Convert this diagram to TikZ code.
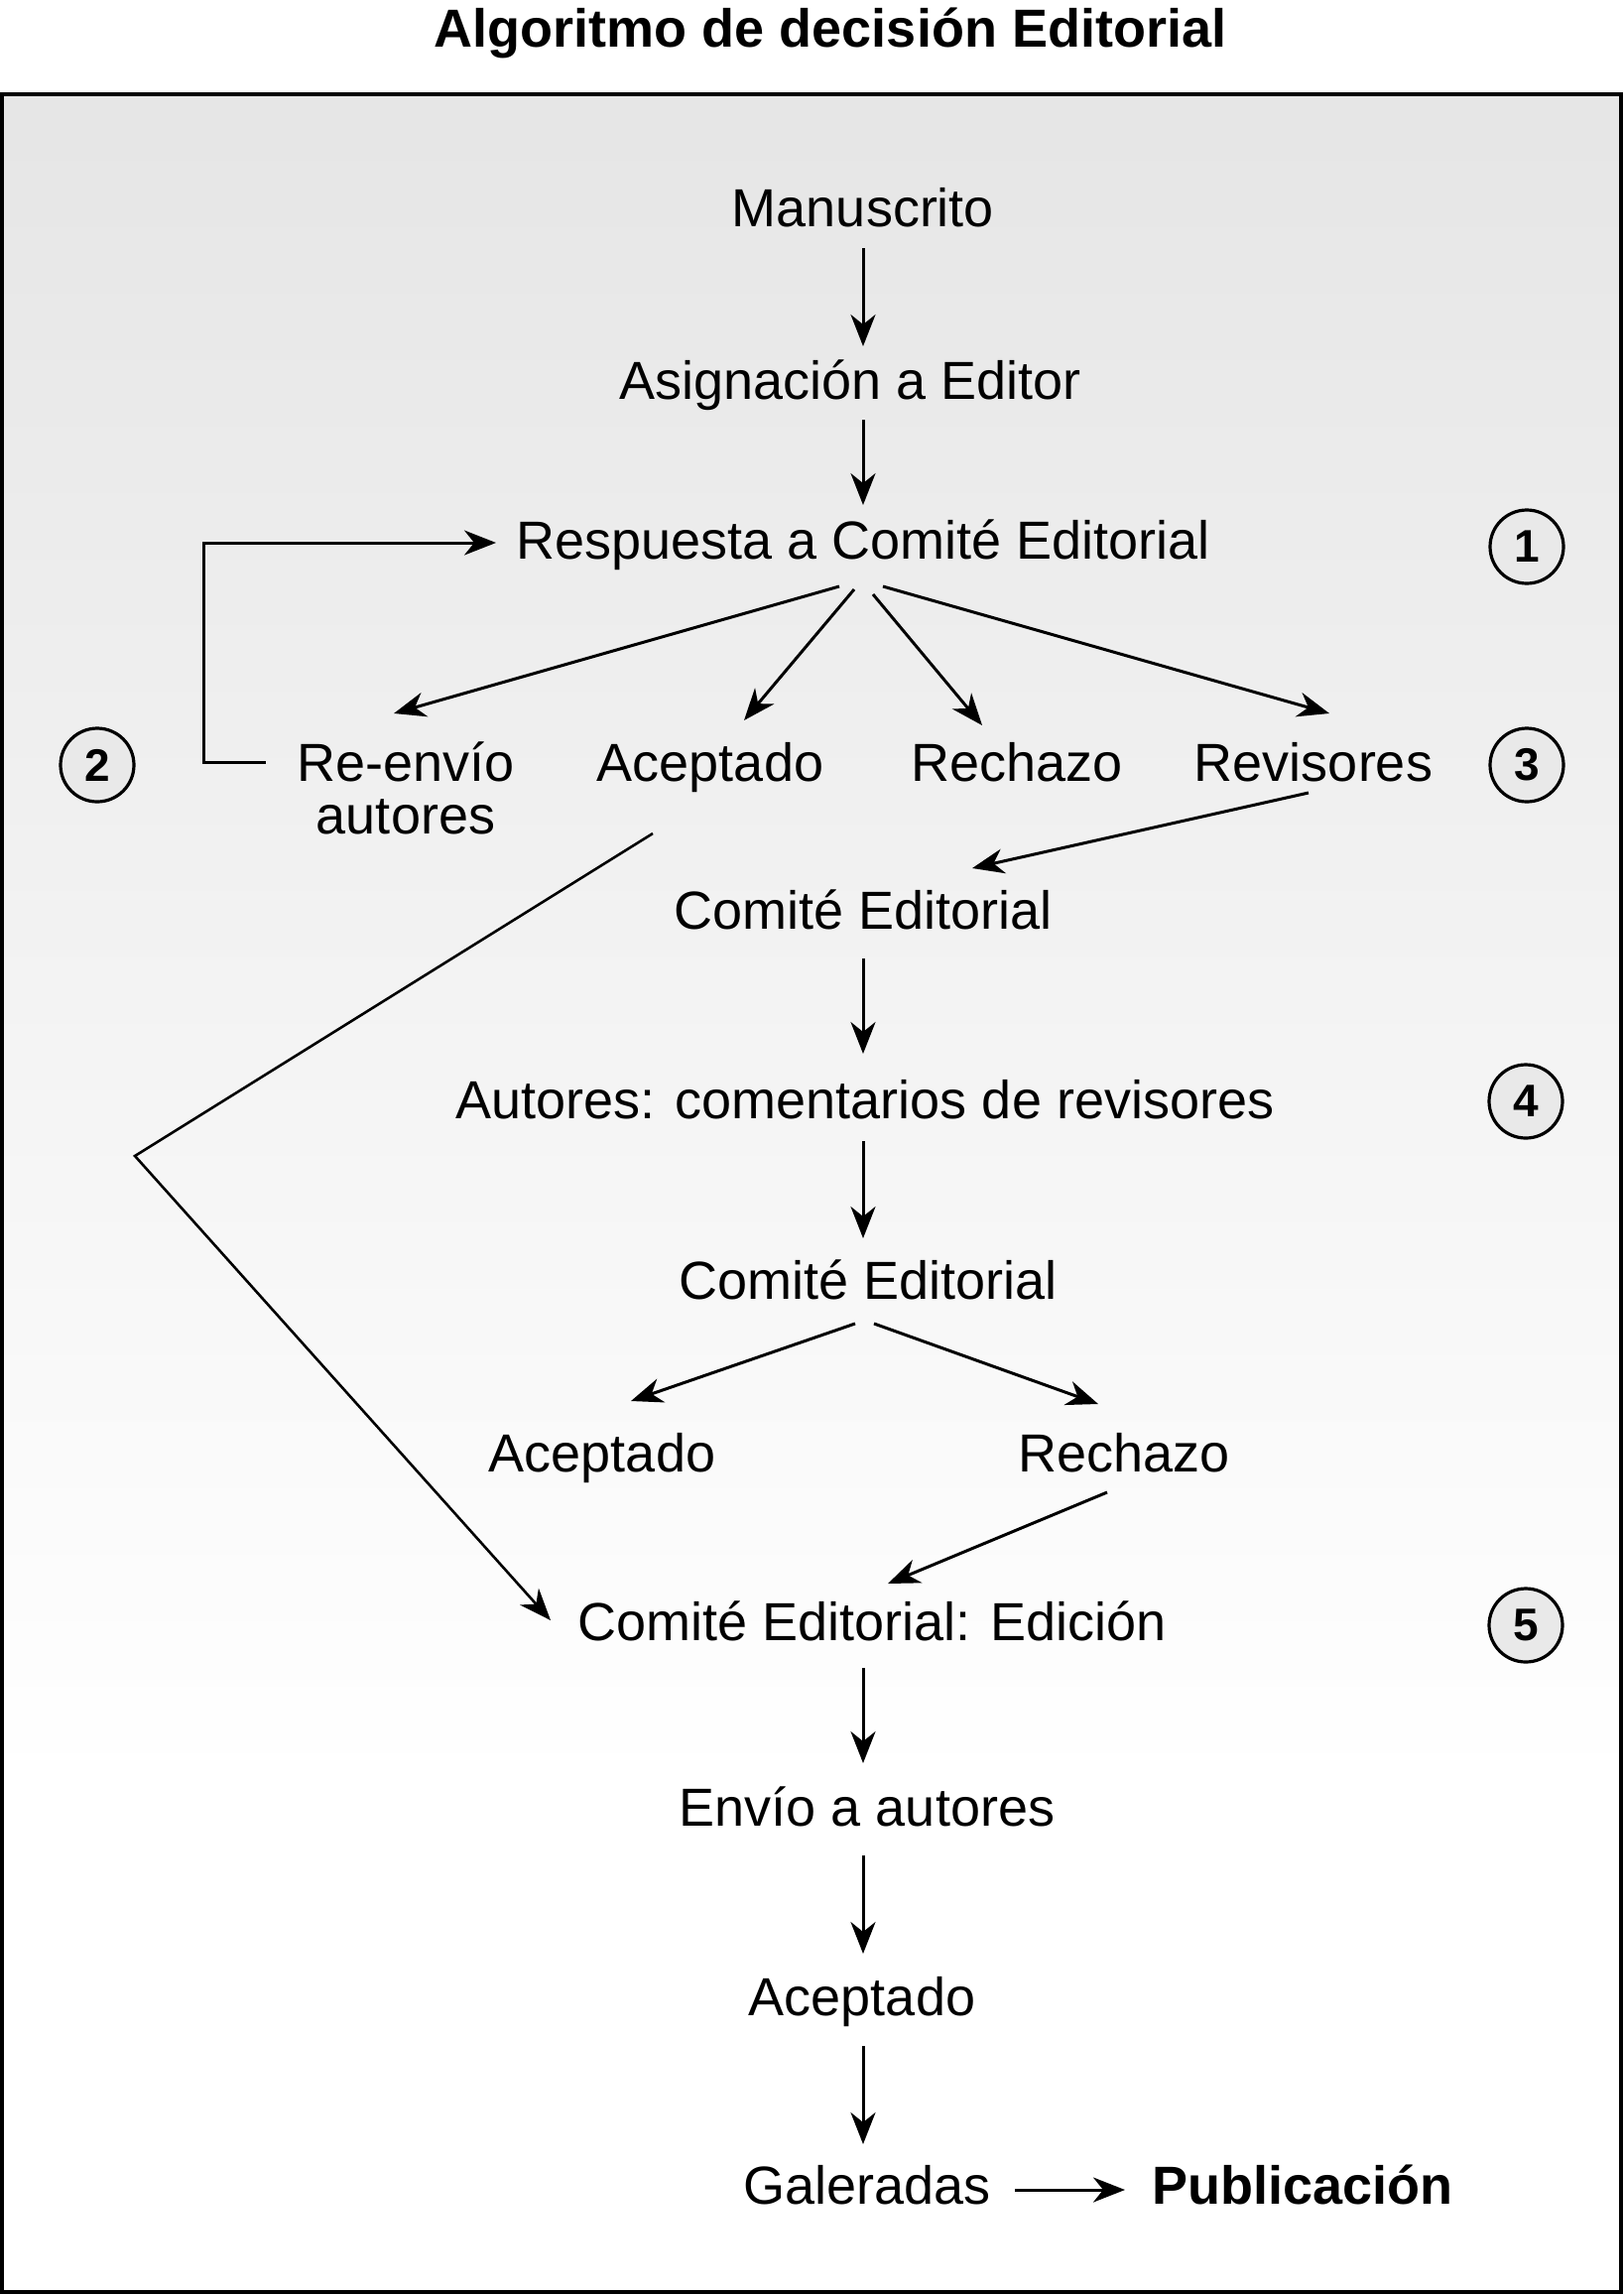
\documentclass[tikz,border=0pt]{standalone}
\usepackage{fontspec}
\setmainfont{Liberation Sans}
\usetikzlibrary{arrows.meta,calc}
\begin{document}
\begin{tikzpicture}[x=0.5pt,y=-0.5pt,
  lbl/.style={inner sep=0pt, anchor=base, font=\fontsize{27}{26.5}\selectfont},
  num/.style={circle, draw, line width=1.6pt, fill=gray!17, minimum size=37pt, inner sep=0pt, font=\fontsize{23}{23}\selectfont\bfseries},
  arr/.style={line width=1.5pt, -{Stealth[length=16pt,width=12.5pt,inset=5pt]}}]
\useasboundingbox (0,0) rectangle (1637,2313);
\fill[white] (0,0) rectangle (1637,2313);
\shade[top color=gray!20, bottom color=white] (2,95) rectangle (1634,1800);
\draw[line width=1.6pt] (2,95) rectangle (1634,2310);

\node[lbl, font=\fontsize{27}{26.5}\selectfont\bfseries] (title) at (837,47) {Algoritmo de decisión Editorial};

\node[lbl] (man) at (870,228) {Manuscrito};
\node[lbl] (asig) at (857,402) {Asignación a Editor};
\node[lbl] (resp) at (870,563) {Respuesta a Comité Editorial};
\node[lbl] (reenv) at (409,787) {\begin{tabular}[t]{@{}c@{}}Re-envío\\autores\end{tabular}};
\node[lbl] (acep1) at (716,787) {Aceptado};
\node[lbl] (rech1) at (1025,787) {Rechazo};
\node[lbl] (revi) at (1324,787) {Revisores};
\node[lbl] (ce1) at (870,936) {Comité Editorial};
\node[lbl] (aut) at (872,1127) {Autores: comentarios de revisores};
\node[lbl] (ce2) at (875,1309) {Comité Editorial};
\node[lbl] (acep2) at (607,1483) {Aceptado};
\node[lbl] (rech2) at (1133,1483) {Rechazo};
\node[lbl] (edic) at (879,1653) {Comité Editorial: Edición};
\node[lbl] (envio) at (874,1840) {Envío a autores};
\node[lbl] (acep3) at (869,2031) {Aceptado};
\node[lbl] (gal) at (874,2221) {Galeradas};
\node[lbl, font=\fontsize{27}{26.5}\selectfont\bfseries] (pub) at (1313,2221) {Publicación};

\node[num] (c1) at (1539,551) {1};
\node[num] (c2) at (98,771) {2};
\node[num] (c3) at (1539,771) {3};
\node[num] (c4) at (1538,1110) {4};
\node[num] (c5) at (1538,1638) {5};

\draw[arr] ($(man.base)+(0,22)$) -- ($(asig.base)+(13,-53)$);
\draw[arr] ($(asig.base)+(13,21)$) -- ($(resp.base)+(0,-54)$);
\draw[arr] ($(resp.base)+(-24,28)$) -- ($(reenv.base)+(-12,-68)$);
\draw[arr] ($(resp.base)+(-9,31)$) -- ($(acep1.base)+(34,-61)$);
\draw[arr] ($(resp.base)+(10,36)$) -- ($(rech1.base)+(-35,-56)$);
\draw[arr] ($(resp.base)+(20,28)$) -- ($(revi.base)+(16,-68)$);
\draw[arr] ($(reenv.base)+(-141,-19)$) -- ++(-63,0) |- ($(resp.base)+(-370,-16)$);
\draw[arr] ($(revi.base)+(-5,12)$) -- ($(ce1.base)+(110,-61)$);
\draw[arr, line width=1.3pt] ($(acep1.base)+(-58,53)$) -- ($(acep1.base)+(-580,378)$) -- ($(edic.base)+(-324,-20)$);
\draw[arr] ($(ce1.base)+(0,30)$) -- ($(aut.base)+(-2,-65)$);
\draw[arr] ($(aut.base)+(-2,23)$) -- ($(ce2.base)+(-5,-61)$);
\draw[arr] ($(ce2.base)+(-13,25)$) -- ($(acep2.base)+(29,-71)$);
\draw[arr] ($(ce2.base)+(6,25)$) -- ($(rech2.base)+(-26,-68)$);
\draw[arr] ($(rech2.base)+(-17,21)$) -- ($(edic.base)+(16,-57)$);
\draw[arr] ($(edic.base)+(-9,28)$) -- ($(envio.base)+(-4,-63)$);
\draw[arr] ($(envio.base)+(-4,30)$) -- ($(acep3.base)+(1,-62)$);
\draw[arr] ($(acep3.base)+(1,31)$) -- ($(gal.base)+(-4,-60)$);
\draw[arr] ($(gal.base)+(149,-14)$) -- ($(pub.base)+(-179,-14)$);
\end{tikzpicture}
\end{document}
